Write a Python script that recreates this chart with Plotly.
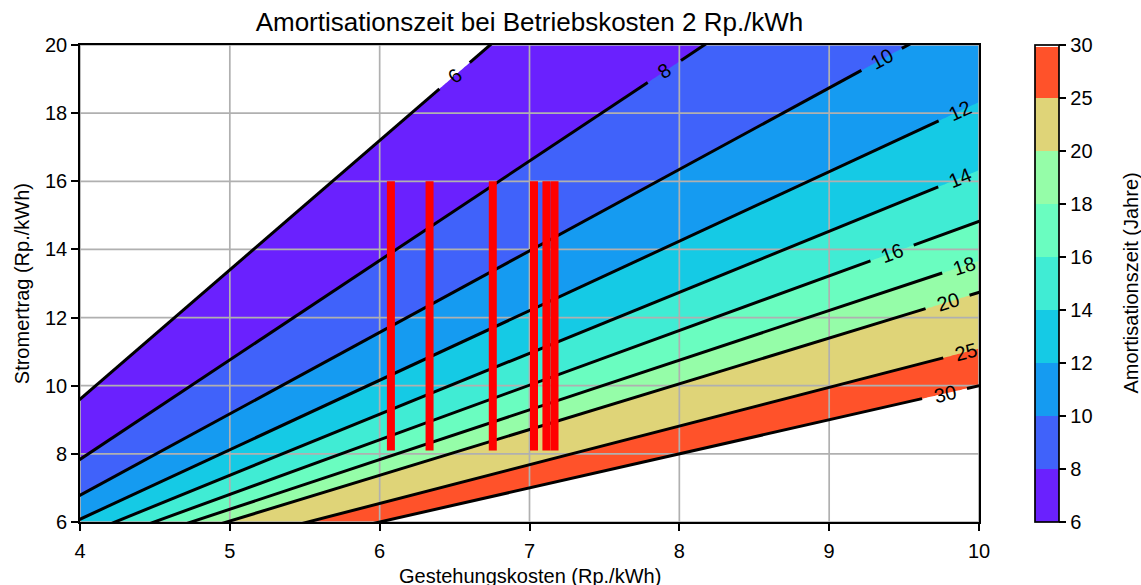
import math
import numpy as np
import plotly.graph_objects as go

# ---- data / model parameters ----
betriebskosten = 2.0          # Rp./kWh (title)
zins = 0.025                  # interest rate
laufzeit = 30                 # years (capital annuity)
levels = [6, 8, 10, 12, 14, 16, 18, 20, 25, 30]
x_range = [4, 10]
y_range = [6, 20]
x_ticks = [4, 5, 6, 7, 8, 9, 10]
y_ticks = [6, 8, 10, 12, 14, 16, 18, 20]
label_x = [6.50, 7.90, 9.35, 9.87, 9.87, 9.42, 9.90, 9.79, 9.91, 9.77]
bar_x = [6.075, 6.333, 6.755, 7.03, 7.113, 7.167]
bar_y = [8.1, 16.0]

# ---- geometry of the plot area (px) ----
W, H = 1141, 585
ML, MR, MT, MB = 80, 162, 45, 63
PW, PH = W - ML - MR, H - MT - MB
px_x = PW / (x_range[1] - x_range[0])
px_y = PH / (y_range[1] - y_range[0])

FONT = "Liberation Sans, Arial, sans-serif"


def pv(t):
    return (1 - (1 + zins) ** (-t)) / zins


K = pv(laufzeit)


def amort(x, y):
    q = zins * (x - betriebskosten) * K / (y - betriebskosten)
    with np.errstate(invalid="ignore", divide="ignore"):
        t = np.where(q < 1, -np.log(np.clip(1 - q, 1e-12, None)) / math.log(1 + zins), 1e3)
    return t


def to_index(t):
    idx = np.arange(len(levels))
    u = np.interp(t, levels, idx)
    u = np.where(t < levels[0], (t - levels[0]) / (levels[1] - levels[0]), u)
    u = np.where(t > levels[-1], idx[-1] + (t - levels[-1]) / (levels[-1] - levels[-2]), u)
    return u


def rainbow(v):
    r = min(1, abs(2 * v - 0.5))
    g = math.sin(math.pi * v)
    b = math.cos(math.pi * v / 2)
    return "rgb(%d,%d,%d)" % (round(r * 255), round(g * 255), round(b * 255))


n = len(levels) - 1
mids = [(levels[i] + levels[i + 1]) / 2 for i in range(n)]
layer_colors = [rainbow((m - levels[0]) / (levels[-1] - levels[0])) for m in mids]

# stepped colour scale: one constant colour per band, white outside
eps = 0.0005
cs = [[0.0, "white"], [eps, "white"]]
for i, c in enumerate(layer_colors):
    lo = max(i / n, eps)
    hi = min((i + 1) / n, 1 - eps)
    cs.append([lo, c])
    cs.append([hi, c])
cs += [[1 - eps, "white"], [1.0, "white"]]

xs = np.linspace(x_range[0], x_range[1], 361)
ys = np.linspace(y_range[0], y_range[1], 337)
X, Y = np.meshgrid(xs, ys)
Z = to_index(amort(X, Y))

fig = go.Figure()
fig.add_trace(go.Contour(
    x=xs, y=ys, z=Z,
    autocontour=False,
    contours=dict(start=0, end=n, size=1, coloring="fill", showlines=False),
    zauto=False, zmin=0, zmax=n,
    colorscale=cs,
    line=dict(width=0),
    hoverinfo="skip",
    colorbar=dict(
        x=(1035 - ML) / PW, xanchor="left", xref="paper", xpad=0, ypad=0,
        y=0.5, yanchor="middle", len=1, lenmode="fraction",
        thickness=24, outlinewidth=1.7, outlinecolor="black",
        tickmode="array", tickvals=list(range(len(levels))),
        ticktext=[str(v) for v in levels],
        ticks="outside", ticklen=7, tickwidth=1.7, tickcolor="black",
        tickfont=dict(family=FONT, size=20, color="black"),
    ),
))

# grid lines (between fill and contour lines, like matplotlib)
gx, gy = [], []
for t in x_ticks:
    gx += [t, t, None]
    gy += [y_range[0], y_range[1], None]
for t in y_ticks:
    gx += [x_range[0], x_range[1], None]
    gy += [t, t, None]
fig.add_trace(go.Scatter(x=gx, y=gy, mode="lines", line=dict(color="#b0b0b0", width=1.7),
                         hoverinfo="skip", showlegend=False))

# contour lines with gaps for labels
annotations = []
for lv, xl in zip(levels, label_x):
    s = K / pv(lv)
    yl = betriebskosten + (xl - betriebskosten) * s
    norm = math.hypot(px_x, s * px_y)
    gap = (20 if len(str(lv)) == 1 else 23) / norm
    lx, ly = [], []
    for a, b in [(x_range[0] - 0.5, xl - gap), (xl + gap, x_range[1] + 0.5)]:
        if b > a:
            lx += [a, b, None]
            ly += [betriebskosten + (a - betriebskosten) * s, betriebskosten + (b - betriebskosten) * s, None]
    fig.add_trace(go.Scatter(x=lx, y=ly, mode="lines", line=dict(color="black", width=3),
                             hoverinfo="skip", showlegend=False))
    ang = math.degrees(math.atan(s * px_y / px_x))
    annotations.append(dict(x=xl, y=yl, xref="x", yref="y", text=str(lv), showarrow=False,
                            textangle=-ang, font=dict(family=FONT, size=20, color="black"),
                            xanchor="center", yanchor="middle"))

# red bars
bx, by = [], []
for xb in bar_x:
    bx += [xb, xb, None]
    by += [bar_y[0], bar_y[1], None]
fig.add_trace(go.Scatter(x=bx, y=by, mode="lines", line=dict(color="red", width=8),
                         hoverinfo="skip", showlegend=False))

annotations += [
    dict(text="Gestehungskosten (Rp./kWh)", x=0.5, y=0, xref="paper", yref="paper",
         xanchor="center", yanchor="top", yshift=-41, showarrow=False,
         font=dict(family=FONT, size=20, color="black")),
    dict(text="Stromertrag (Rp./kWh)", x=(21.7 - ML) / PW, y=0.5, xref="paper", yref="paper",
         xanchor="center", yanchor="middle", textangle=-90, showarrow=False,
         font=dict(family=FONT, size=20, color="black")),
    dict(text="Amortisationszeit (Jahre)", x=(1130 - ML) / PW, y=0.5, xref="paper", yref="paper",
         xanchor="center", yanchor="middle", textangle=-90, showarrow=False,
         font=dict(family=FONT, size=20, color="black")),
]

axis_common = dict(showgrid=False, zeroline=False, showline=True, linecolor="black", linewidth=1.7,
                   mirror=True, ticks="outside", ticklen=7, tickwidth=1.7, tickcolor="black",
                   tickfont=dict(family=FONT, size=20, color="black"), layer="above traces")
fig.update_layout(
    width=W, height=H,
    margin=dict(l=ML, r=MR, t=MT, b=MB),
    paper_bgcolor="white", plot_bgcolor="white",
    showlegend=False,
    title=dict(text="Amortisationszeit bei Betriebskosten 2 Rp./kWh", x=(ML + PW / 2) / W,
               xanchor="center", y=1 - 22 / H, yanchor="middle", yref="container",
               font=dict(family=FONT, size=26, color="black")),
    xaxis=dict(range=x_range, tickvals=x_ticks, ticklabelstandoff=3, **axis_common),
    yaxis=dict(range=y_range, tickvals=y_ticks, **axis_common),
    annotations=annotations,
)

fig.write_html("out.html",
               config={"displayModeBar": False},
               post_script="document.body.style.margin='0';document.body.style.overflow='hidden';")
